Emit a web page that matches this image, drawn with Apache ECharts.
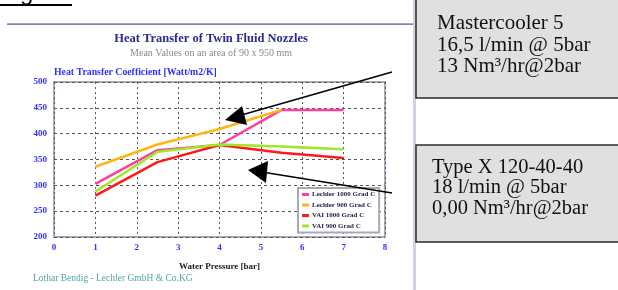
<!DOCTYPE html>
<html>
<head>
<meta charset="utf-8">
<script src="https://cdn.jsdelivr.net/npm/echarts@6/dist/echarts.min.js"></script>
<style>
  html, body { margin: 0; padding: 0; background: #fff; }
  #chart { width: 618px; height: 290px; }
</style>
</head>
<body>
<div id="chart"></div>
<script>
  // water pressure [bar] and heat transfer coefficient [Watt/m2/K]
  const pressure = [1, 2.5, 4, 5.5, 7];
  const lechler1000 = [303, 368, 378, 446, 446];
  const lechler900 = [336, 379, 409, 446, null];
  const vai1000 = [280, 345, 378, 363, 353];
  const vai900 = [288, 365, 379, 375, 370];

  const seriesNames = ['Lechler 1000 Grad C', 'Lechler 900 Grad C', 'VAI 1000 Grad C', 'VAI 900 Grad C'];
  const seriesColors = ['#ff3f9f', '#ffb612', '#ff1a1a', '#9be824'];
  const seriesValues = [lechler1000, lechler900, vai1000, vai900];

  const box1Lines = ['Mastercooler 5', '16,5 l/min @ 5bar', '13 Nm³/hr@2bar'];
  const box2Lines = ['Type X 120-40-40', '18 l/min @ 5bar', '0,00 Nm³/hr@2bar'];

  const serif = '"Liberation Serif", "DejaVu Serif", serif';
  const blue = '#3030ff';

  const pairs = (ys) => pressure.map((x, i) => [x, ys[i]]);

  const chart = echarts.init(document.getElementById('chart'));

  const boxText = (lines, left, top, gap, size) =>
    lines.map((t, i) => ({
      type: 'text',
      left: left,
      top: top + i * gap,
      z: 20,
      style: { text: t, fill: '#111', font: size + 'px ' + serif },
    }));

  chart.setOption({
    animation: false,
    title: [
      {
        text: 'Heat Transfer of Twin Fluid Nozzles',
        left: 211,
        textAlign: 'center',
        top: 32,
        padding: 0,
        textStyle: { fontFamily: serif, fontSize: 12.5, fontWeight: 'bold', color: '#2b2b8c' },
      },
      {
        text: 'Mean Values on an area of 90 x 950 mm',
        left: 211,
        textAlign: 'center',
        top: 48,
        padding: 0,
        textStyle: { fontFamily: serif, fontSize: 10, fontWeight: 'normal', color: '#8a8a8a' },
      },
      {
        text: 'Lothar Bendig - Lechler GmbH & Co.KG',
        left: 33,
        top: 273,
        padding: 0,
        textStyle: { fontFamily: serif, fontSize: 9.5, fontWeight: 'normal', color: '#4fa6a6' },
      },
    ],
    legend: {
      data: seriesNames,
      orient: 'vertical',
      left: 298,
      top: 188,
      padding: [3, 4],
      itemGap: 3.5,
      itemWidth: 7,
      itemHeight: 3,
      icon: 'rect',
      backgroundColor: '#fff',
      borderColor: '#a8a8b8',
      borderWidth: 2,
      textStyle: { fontFamily: serif, fontSize: 7, fontWeight: 'bold', color: '#23234a', padding: [0, 0, 0, -2] },
    },
    grid: {
      left: 54,
      right: 233,
      top: 82,
      bottom: 53,
      show: true,
      borderColor: '#a8a8b8',
      borderWidth: 2,
    },
    xAxis: {
      type: 'value',
      min: 0,
      max: 8,
      interval: 1,
      name: 'Water Pressure [bar]',
      nameLocation: 'middle',
      nameGap: 25,
      nameTextStyle: { fontFamily: serif, fontSize: 9, fontWeight: 'bold', color: '#222' },
      axisLine: { show: false },
      axisTick: { show: false },
      axisLabel: { margin: 6, fontFamily: serif, fontSize: 9, fontWeight: 'bold', color: blue },
      splitLine: { lineStyle: { type: [2, 3], color: '#555', width: 1 } },
    },
    yAxis: {
      type: 'value',
      min: 200,
      max: 500,
      interval: 50,
      name: 'Heat Transfer Coefficient [Watt/m2/K]',
      nameGap: 5,
      nameTextStyle: { fontFamily: serif, fontSize: 9.8, fontWeight: 'bold', color: blue, align: 'left' },
      axisLine: { show: false },
      axisTick: { show: false },
      axisLabel: { margin: 7, fontFamily: serif, fontSize: 9, fontWeight: 'bold', color: blue },
      splitLine: { lineStyle: { type: [3, 3], color: '#555', width: 1 } },
    },
    series: seriesNames.map((name, i) => ({
      name: name,
      type: 'line',
      data: pairs(seriesValues[i]),
      symbol: 'none',
      color: seriesColors[i],
      lineStyle: { width: 2.5, color: seriesColors[i] },
      z: 3 + i,
    })),
    graphic: [
      // partly visible figure caption at the top
      {
        type: 'text',
        left: 0,
        top: -19,
        style: { text: 'Fig. 4', fill: '#000', font: '24px "Liberation Sans", Arial, sans-serif' },
      },
      { type: 'rect', shape: { x: 0, y: 4, width: 72, height: 2 }, style: { fill: '#000' } },
      // page rule and page edge
      { type: 'rect', shape: { x: 7, y: 23.5, width: 408, height: 1.2 }, style: { fill: '#55558a' } },
      { type: 'rect', shape: { x: 413, y: 0, width: 3, height: 290 }, style: { fill: '#d2d2e2' } },
      // text boxes
      {
        type: 'rect',
        z: 15,
        shape: { x: 416, y: -2, width: 210, height: 100 },
        style: { fill: '#e0e0e0', stroke: '#2a2a2a', lineWidth: 1.5 },
      },
      {
        type: 'rect',
        z: 15,
        shape: { x: 416, y: 145, width: 210, height: 97 },
        style: { fill: '#e0e0e0', stroke: '#2a2a2a', lineWidth: 1.5 },
      },
      ...boxText(box1Lines, 437, 13, 21.5, 21),
      ...boxText(box2Lines, 432, 157, 20.5, 20.5),
      // arrows
      { type: 'line', z: 12, shape: { x1: 392, y1: 72, x2: 238, y2: 116 }, style: { stroke: '#000', lineWidth: 1.5 } },
      {
        type: 'polygon',
        z: 12,
        shape: { points: [[225, 120], [242, 106], [247, 125]] },
        style: { fill: '#000' },
      },
      { type: 'line', z: 12, shape: { x1: 392, y1: 193, x2: 262, y2: 172 }, style: { stroke: '#000', lineWidth: 1.5 } },
      {
        type: 'polygon',
        z: 12,
        shape: { points: [[248, 170], [268, 161], [266, 183]] },
        style: { fill: '#000' },
      },
    ],
  });
</script>
</body>
</html>
